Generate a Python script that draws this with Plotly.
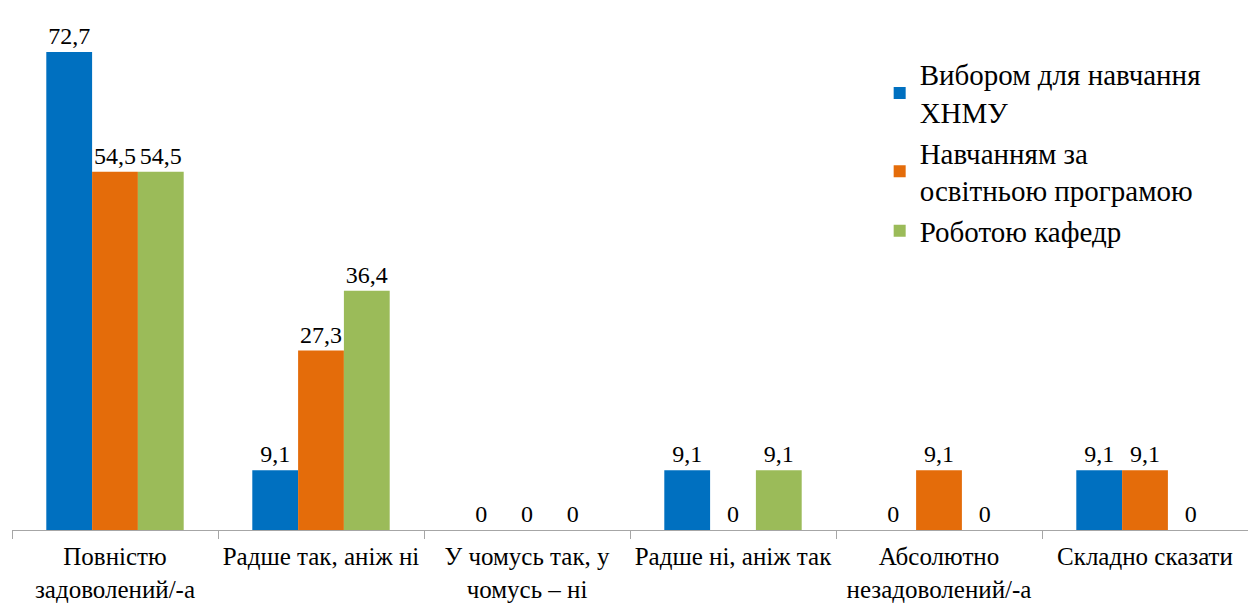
import plotly.graph_objects as go

categories = ["Повністю<br>задоволений/-а", "Радше так, аніж ні", "У чомусь так, у<br>чомусь – ні",
              "Радше ні, аніж так", "Абсолютно<br>незадоволений/-а", "Складно сказати"]
series_names = ["Вибором для навчання<br>ХНМУ", "Навчанням за<br>освітньою програмою", "Роботою кафедр"]
vals_choice = [72.7, 9.1, 0, 9.1, 0, 9.1]
vals_program = [54.5, 27.3, 0, 0, 9.1, 9.1]
vals_dept = [54.5, 36.4, 0, 9.1, 0, 0]
colors = ["#0070C0", "#E46C0A", "#9BBB59"]

SERIF = "Liberation Serif"

def fmt(v):
    return "0" if v == 0 else f"{v:.1f}".replace(".", ",")

fig = go.Figure()
for name, vals, c in zip(series_names, [vals_choice, vals_program, vals_dept], colors):
    fig.add_trace(go.Bar(
        x=categories, y=vals, name=name, marker=dict(color=c, line=dict(width=0)),
        text=[fmt(v) for v in vals], textposition="outside", cliponaxis=False,
        textfont=dict(family=SERIF, size=24, color="#000000"),
    ))

fig.update_layout(
    width=1248, height=606,
    margin=dict(l=12, r=0, t=4, b=76),
    paper_bgcolor="white", plot_bgcolor="white",
    barmode="group", bargap=0.333, bargroupgap=0,
    font=dict(family=SERIF, size=24, color="#000000"),
    showlegend=True,
    legend=dict(x=0.702, y=0.915, xanchor="left", yanchor="top",
                font=dict(family=SERIF, size=29, color="#000000"),
                bgcolor="rgba(0,0,0,0)", traceorder="normal", itemsizing="constant",
                tracegroupgap=0),
)
fig.update_xaxes(showline=True, linecolor="#A6A6A6", linewidth=1, ticks="outside",
                 tickson="boundaries", ticklen=8, tickcolor="#A6A6A6",
                 tickfont=dict(family=SERIF, size=25, color="#000000"),
                 tickangle=0, ticklabelstandoff=4,
                 showgrid=False, automargin=False)
fig.update_yaxes(range=[0, 80], visible=False, showgrid=False, zeroline=False)

fig.write_html("out.html", config={"displayModeBar": False},
               post_script="document.body.style.margin='0';")
